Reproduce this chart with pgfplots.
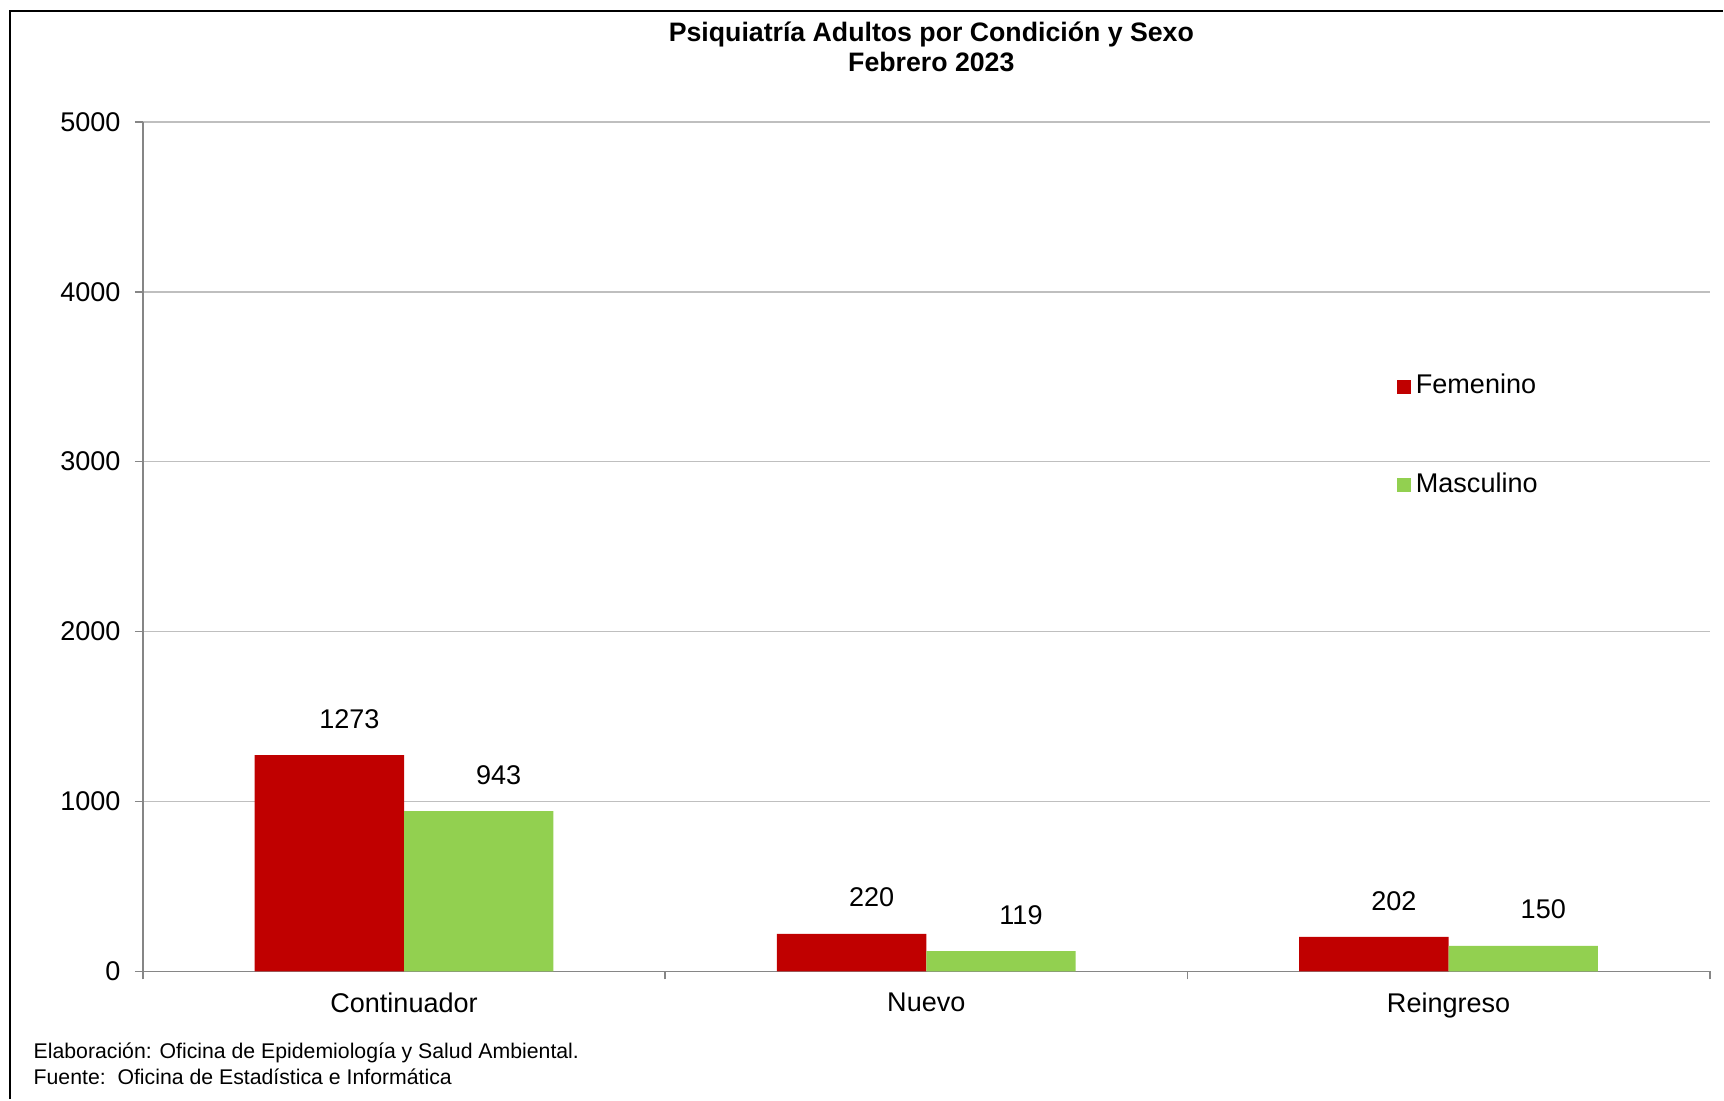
\documentclass[border=0pt]{standalone}
\usepackage{pgfplots}
\pgfplotsset{compat=1.18}
\usepackage{fontspec}
\setmainfont{Liberation Sans}
\definecolor{fem}{HTML}{C00000}
\definecolor{mas}{HTML}{92D050}
\definecolor{axgray}{HTML}{868686}
\definecolor{grid}{HTML}{D9D9D9}
\newcommand{\fs}{\fontsize{7.7}{9.2}\selectfont}
\begin{document}
\begin{tikzpicture}
\path (0,0) rectangle (172.4mm,110mm);
\draw[line width=0.25mm] (1.0mm,0) -- (1.0mm,108.9mm) -- (172.4mm,108.9mm);
\node[font=\fontsize{7.6}{8.5}\selectfont\bfseries, align=center] at (93.2mm,105.3mm) {Psiquiatría Adultos por Condición y Sexo\\Febrero 2023};
\node[font=\fontsize{6.05}{7.4}\selectfont, align=left, anchor=base west, inner sep=0] at (3.3mm,4.1mm) {Elaboración: Oficina de Epidemiología y Salud Ambiental.};
\node[font=\fontsize{6.05}{7.4}\selectfont, align=left, anchor=base west, inner sep=0] at (3.3mm,1.5mm) {Fuente:\ \ Oficina de Estadística e Informática};
\begin{axis}[
  at={(14.3mm,12.8mm)}, anchor=south west,
  scale only axis, width=156.8mm, height=85mm,
  xmin=-0.5, xmax=2.5, ymin=0, ymax=5000,
  ybar, bar width=0.286,
  xtick={-0.5,0.5,1.5,2.5}, xticklabels={},
  extra x ticks={0,1,2},
  extra x tick labels={Continuador,Nuevo,Reingreso},
  extra x tick style={major tick length=0pt, grid=none, xticklabel style={yshift=-0.87mm}},
  ytick={0,1000,2000,3000,4000,5000},
  major tick length=0.8mm,
  tick align=outside,
  tick style={axgray, line width=0.15mm},
  grid=none, xmajorgrids=false, ymajorgrids=true, grid style={grid, line width=0.15mm},
  axis x line*=bottom, axis y line*=left,
  axis line style={axgray, line width=0.15mm},
  separate axis lines,
  x axis line style={-}, y axis line style={-},
  tick label style={font=\fs},
  /pgf/number format/assume math mode=true,
  yticklabel style={/pgf/number format/fixed, /pgf/number format/1000 sep={}, xshift=-0.2mm},
  scaled y ticks=false,
  nodes near coords,
  every node near coord/.append style={font=\fs, anchor=south, inner sep=0, xshift=2.0mm, yshift=2.6mm, /pgf/number format/1000 sep={}},
  legend style={at={(rel axis cs:0.8,0.712)}, anchor=north west, draw=none, fill=none, font=\fs, row sep=5.95mm, legend cell align=left, inner sep=0},
  legend image code/.code={\fill[#1, overlay] (0mm,-0.7mm) rectangle (1.4mm,0.7mm); \path (0mm,-0.7mm) rectangle (1.18mm,0.7mm);},
]
\addplot[fill=fem, draw=none, bar shift=-0.143] coordinates {(0,1273) (1,220) (2,202)};
\addplot[fill=mas, draw=none, bar shift=0.143] coordinates {(0,943) (1,119) (2,150)};
\legend{Femenino,Masculino}
\end{axis}
\end{tikzpicture}
\end{document}
